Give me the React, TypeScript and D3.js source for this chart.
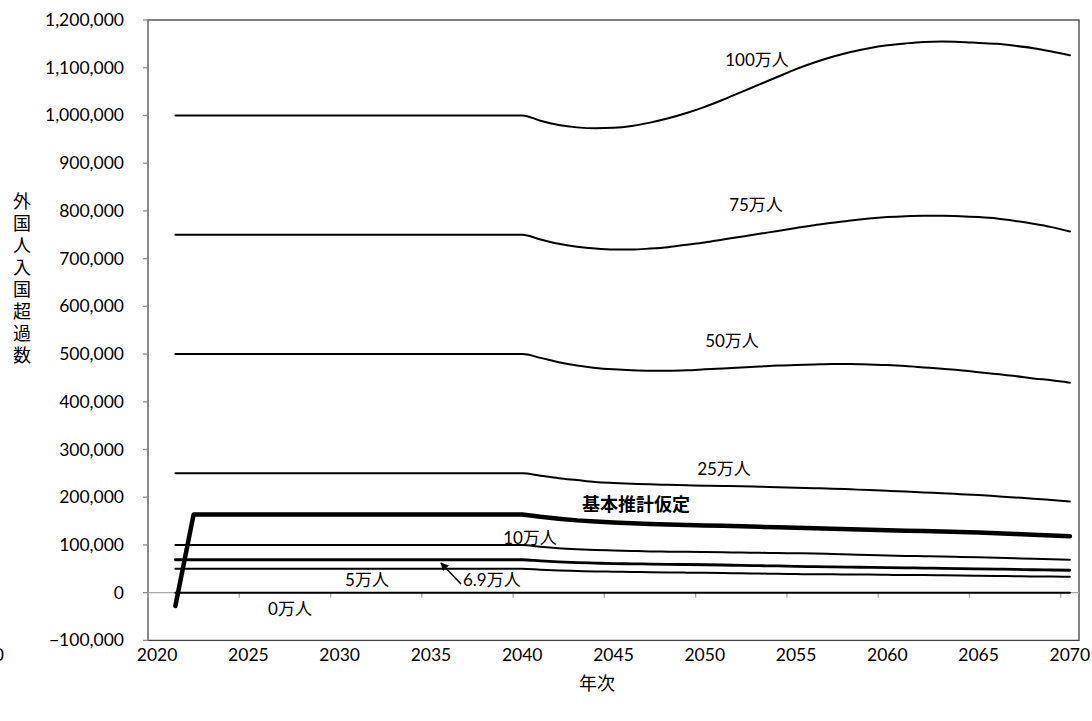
import React from "react";
import * as d3 from "d3";

const years: number[] = d3.range(2020, 2071);
const flatYears = d3.range(2021, 2041); // 2021..2040

// values after 2040 (2041..2070)
const s100After = [989000, 980000, 975000, 973000, 974000, 978000, 985000, 994000, 1005000, 1018000, 1033000, 1049000, 1065000, 1081000, 1097000, 1111000, 1123000, 1133000, 1141000, 1147000, 1151000, 1154000, 1155000, 1154000, 1152000, 1150000, 1146000, 1141000, 1134000, 1126000];
const s75After = [740000, 731000, 725000, 721000, 719000, 719000, 721000, 724000, 729000, 734000, 740000, 746000, 752000, 758000, 764000, 770000, 775000, 780000, 784000, 787000, 789000, 790000, 790000, 789000, 787000, 784000, 779000, 773000, 766000, 757000];
const s50After = [492000, 483000, 476000, 471000, 468000, 466000, 465000, 465000, 466000, 468000, 470000, 472000, 474000, 476000, 477000, 478000, 479000, 479000, 478000, 477000, 475000, 472000, 469000, 466000, 462000, 458000, 454000, 449000, 445000, 440000];
const s25After = [245000, 240000, 236000, 232000, 230000, 228500, 227000, 226000, 225000, 224000, 223500, 223000, 222000, 221000, 220000, 219000, 218000, 216500, 215000, 213500, 212000, 210000, 208500, 206500, 204500, 202000, 199500, 197000, 194000, 191000];
const baseAfter = [159000, 155000, 151500, 149000, 147000, 145500, 144000, 143000, 142000, 141000, 140000, 139000, 138000, 137000, 136000, 135000, 134000, 133000, 132000, 131000, 130000, 129000, 128000, 127000, 126000, 124500, 123000, 121500, 120000, 118000];
const s10After = [96000, 93000, 91000, 89500, 88500, 87500, 86500, 86000, 85500, 85000, 84500, 84000, 83500, 83000, 82500, 82000, 81000, 80000, 79000, 78000, 77000, 76500, 76000, 75000, 74000, 73000, 72000, 71000, 70000, 69000];
const s69After = [66500, 64500, 63000, 62000, 61000, 60500, 60000, 59500, 59000, 58500, 58000, 57000, 56500, 56000, 55000, 54500, 54000, 53500, 53000, 52500, 52000, 51500, 51000, 50500, 50000, 49500, 49000, 48000, 47500, 47000];
const s5After = [48000, 46500, 45500, 44500, 44000, 43500, 43000, 42500, 42000, 41500, 41000, 40500, 40000, 39500, 39000, 38500, 38500, 38000, 38000, 37500, 37000, 37000, 36500, 36000, 35500, 35000, 34500, 34000, 34000, 33500];
const s0After = new Array(30).fill(0);

const baseStart = [-28000]; // 2021
const baseFlat = 164000; // 2022..2040

const yTicks = d3.range(-100000, 1200001, 100000);
const xLabelYears = d3.range(2020, 2071, 5);
const yTitle = ["外", "国", "人", "入", "国", "超", "過", "数"];

type Series = { name: string; values: number[]; width: number; smooth: boolean };

function buildFlat(level: number, after: number[]): number[] {
  return [...flatYears.map(() => level), ...after];
}

const series: Series[] = [
  { name: "100万人", values: buildFlat(1000000, s100After), width: 2, smooth: true },
  { name: "75万人", values: buildFlat(750000, s75After), width: 2, smooth: true },
  { name: "50万人", values: buildFlat(500000, s50After), width: 2, smooth: true },
  { name: "25万人", values: buildFlat(250000, s25After), width: 2, smooth: true },
  { name: "基本推計仮定", values: [...baseStart, ...d3.range(2022, 2041).map(() => baseFlat), ...baseAfter], width: 4.5, smooth: false },
  { name: "10万人", values: buildFlat(100000, s10After), width: 2, smooth: true },
  { name: "6.9万人", values: buildFlat(69000, s69After), width: 2.8, smooth: true },
  { name: "5万人", values: buildFlat(50000, s5After), width: 2, smooth: true },
  { name: "0万人", values: buildFlat(0, s0After), width: 2, smooth: false },
];

const FONT = "Lato, 'Noto Sans CJK JP', sans-serif";

export default function App() {
  const W = 1092, H = 721;
  const left = 148, right = 1079, top = 20, bottom = 640.4;
  const x = d3.scaleBand<number>().domain(years).range([left, right]).padding(0);
  const bw = x.bandwidth();
  const cx = (yr: number) => (x(yr) as number) + bw / 2;
  const y = d3.scaleLinear().domain([-100000, 1200000]).range([bottom, top]);
  const mkLine = (smooth: boolean) => d3.line<number>()
    .x((_, i) => cx(2021 + i))
    .y((v) => y(v))
    .curve(smooth ? d3.curveMonotoneX : d3.curveLinear);

  const tickBoundaries = d3.range(0, 51, 5).map((i) => left + i * bw);

  return (
    <svg width={W} height={H} style={{ position: "absolute", left: 0, top: 0, background: "#fff" }} fontFamily={FONT}>
      <rect x={0} y={0} width={W} height={H} fill="#fff" />
      {/* plot border */}
      <rect x={left} y={top} width={right - left} height={bottom - top} fill="none" stroke="#404040" strokeWidth={1.3} />
      {/* left axis */}
      <line x1={left} x2={left} y1={top} y2={bottom} stroke="#8c8c8c" strokeWidth={1.3} />
      {yTicks.map((t) => (
        <g key={t}>
          <line x1={left - 5} x2={left} y1={y(t)} y2={y(t)} stroke="#8c8c8c" strokeWidth={1.3} />
          <text x={124} y={y(t) + 6} textAnchor="end" fontSize={17.5} fill="#000">{d3.format(",")(t)}</text>
        </g>
      ))}
      {/* category axis at 0 */}
      <line x1={left} x2={right} y1={y(0)} y2={y(0)} stroke="#a6a6a6" strokeWidth={1.3} />
      {tickBoundaries.map((bx, i) => (
        <line key={i} x1={bx} x2={bx} y1={y(0)} y2={y(0) + 5} stroke="#a6a6a6" strokeWidth={1.3} />
      ))}
      {xLabelYears.map((yr) => (
        <text key={yr} x={cx(yr)} y={661} textAnchor="middle" fontSize={17.5} fill="#000">{yr}</text>
      ))}
      <text x={4} y={661} textAnchor="end" fontSize={17.5} fill="#000">0</text>
      {/* series */}
      {series.map((s) => (
        <path key={s.name} d={mkLine(s.smooth)(s.values) || ""} fill="none" stroke="#000" strokeWidth={s.width} strokeLinejoin="round" strokeLinecap="round" />
      ))}
      {/* labels */}
      <text x={757} y={66} textAnchor="middle" fontSize={17}>100万人</text>
      <text x={756} y={211} textAnchor="middle" fontSize={17}>75万人</text>
      <text x={732} y={347} textAnchor="middle" fontSize={17}>50万人</text>
      <text x={724} y={475} textAnchor="middle" fontSize={17}>25万人</text>
      <text x={636} y={511} textAnchor="middle" fontSize={18} fontWeight="bold">基本推計仮定</text>
      <text x={530} y={544} textAnchor="middle" fontSize={17}>10万人</text>
      <text x={367} y={586} textAnchor="middle" fontSize={17}>5万人</text>
      <text x={463} y={586} textAnchor="start" fontSize={17}>6.9万人</text>
      <text x={290} y={615} textAnchor="middle" fontSize={17}>0万人</text>
      <defs>
        <marker id="arr" viewBox="0 0 10 10" refX={9} refY={5} markerWidth={8} markerHeight={8} orient="auto" markerUnits="userSpaceOnUse">
          <path d="M0,0 L10,5 L0,10 z" fill="#000" />
        </marker>
      </defs>
      <line x1={461} y1={584} x2={441} y2={563} stroke="#000" strokeWidth={1.5} markerEnd="url(#arr)" />
      {/* axis titles */}
      {yTitle.map((c, i) => (
        <text key={i} x={22} y={201 + i * 22 + 6.5} textAnchor="middle" fontSize={18}>{c}</text>
      ))}
      <text x={597} y={690} textAnchor="middle" fontSize={18}>年次</text>
    </svg>
  );
}
